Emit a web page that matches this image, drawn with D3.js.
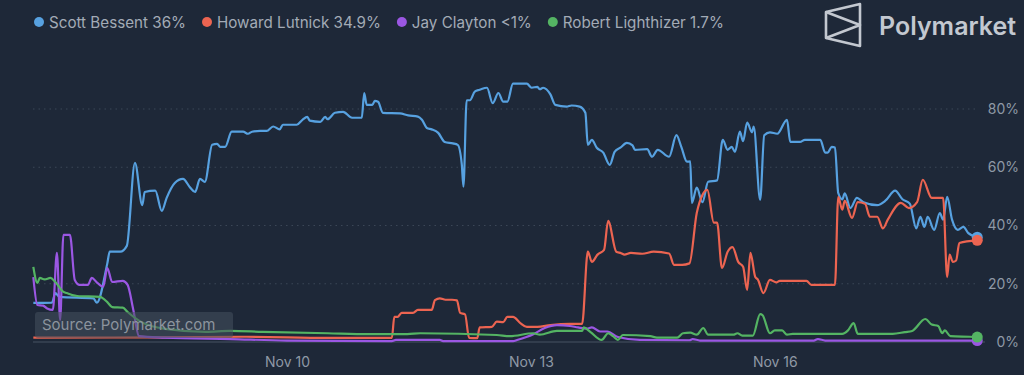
<!DOCTYPE html>
<html>
<head>
<meta charset="utf-8">
<script src="https://cdn.jsdelivr.net/npm/d3@7.9.0/dist/d3.min.js"></script>
<style>
  html, body { margin: 0; padding: 0; background: #1e2838; }
  svg { display: block; font-family: Inter, "Noto Sans", sans-serif; }
</style>
</head>
<body>
<svg id="chart" width="1024" height="375"></svg>
<script>
// day of November (fractional) -> probability %
const bessent = [
  [6.88, 13.4], [7.11, 13.5], [7.15, 16.8], [7.20, 15.5], [7.62, 15.0], [7.66, 13.5], [7.79, 27], [7.82, 31],
  [7.95, 31], [8.03, 33], [8.13, 61.5], [8.22, 47], [8.25, 51.5], [8.38, 52], [8.46, 45], [8.52, 49.5],
  [8.62, 54.6], [8.72, 56], [8.81, 53], [8.87, 51.5], [8.93, 56], [8.99, 55], [9.08, 67.7], [9.14, 68],
  [9.18, 67], [9.24, 67], [9.32, 72.2], [9.46, 72.2], [9.52, 71.5], [9.57, 72.2], [9.67, 72.5], [9.75, 72.5],
  [9.83, 74], [9.91, 73], [9.95, 74.6], [10.12, 74.6], [10.19, 76.3], [10.25, 77.3], [10.28, 76], [10.41, 75.6],
  [10.47, 77.3], [10.50, 76.5], [10.59, 78.7], [10.69, 79], [10.80, 77], [10.92, 77], [10.95, 85.5], [10.98, 81.4],
  [11.05, 81.4], [11.08, 82.8], [11.12, 82.5], [11.18, 78.7], [11.39, 78.5], [11.49, 77.8], [11.61, 77.4], [11.66, 76.3],
  [11.72, 73.5], [11.78, 73], [11.86, 71.8], [11.94, 68.7], [12.04, 68.2], [12.10, 67.7], [12.15, 61], [12.17, 53.3],
  [12.21, 83], [12.25, 83], [12.31, 86], [12.37, 86.6], [12.46, 87.3], [12.53, 82], [12.60, 85.5], [12.66, 82.5],
  [12.71, 82.5], [12.78, 88.7], [12.95, 88.7], [13.01, 87.3], [13.08, 87.6], [13.11, 86.8], [13.15, 87.3], [13.24, 85],
  [13.30, 81.4], [13.44, 80.8], [13.50, 81.2], [13.60, 80.8], [13.67, 78.7], [13.70, 67.7], [13.75, 69.4], [13.81, 66.7],
  [13.89, 65], [13.97, 60.8], [14.03, 65.3], [14.10, 66.7], [14.18, 68.4], [14.25, 67.5], [14.28, 66], [14.43, 66.2],
  [14.49, 63.6], [14.56, 66], [14.70, 63.6], [14.79, 71], [14.85, 67], [14.92, 61.9], [14.96, 62], [14.98, 47.8],
  [15.04, 53], [15.11, 48], [15.18, 55], [15.29, 55.5], [15.36, 69.4], [15.42, 66], [15.47, 67], [15.51, 65.3],
  [15.57, 72.2], [15.61, 69], [15.66, 75.3], [15.72, 72], [15.74, 74], [15.82, 48.8], [15.87, 71], [15.94, 72],
  [16.03, 71.5], [16.15, 76.3], [16.19, 68.7], [16.31, 68.7], [16.37, 69.4], [16.56, 69.4], [16.62, 65], [16.65, 65],
  [16.70, 67], [16.74, 66.8], [16.78, 51.2], [16.83, 49], [16.86, 51], [16.93, 46], [17.01, 49.5], [17.09, 48],
  [17.26, 47], [17.36, 48.5], [17.48, 52], [17.57, 49], [17.66, 47.5], [17.74, 39], [17.79, 43], [17.84, 39.5],
  [17.88, 43], [17.96, 38.5], [18.03, 44.3], [18.07, 42], [18.12, 49.8], [18.18, 42], [18.25, 38.5], [18.32, 39.5],
  [18.38, 37.4], [18.49, 36]
];

const lutnick = [
  [6.88, 1.5], [8.5, 1.6], [9.5, 1.8], [10.5, 1.4], [11.29, 1.4], [11.32, 8.6], [11.36, 8.6], [11.41, 10],
  [11.55, 10], [11.61, 11], [11.78, 11], [11.82, 14.4], [11.88, 15], [11.95, 14.5], [12.03, 14.5], [12.09, 14.3],
  [12.13, 10], [12.19, 9.5], [12.24, 1.4], [12.34, 1.3], [12.37, 5], [12.52, 5.2], [12.58, 7], [12.66, 6.8],
  [12.71, 8.6], [12.78, 8.6], [12.87, 6.5], [12.95, 5.2], [13.08, 5.2], [13.24, 5.8], [13.48, 6.2], [13.63, 6.2],
  [13.70, 31], [13.75, 27.5], [13.82, 30], [13.90, 31.6], [13.95, 41.6], [14.05, 31], [14.11, 30.5], [14.15, 30],
  [14.23, 30.6], [14.37, 30.3], [14.51, 31], [14.70, 30.4], [14.76, 26.5], [14.86, 26.5], [14.95, 27], [15.04, 44.3],
  [15.11, 50.5], [15.17, 52.2], [15.25, 41], [15.29, 41], [15.35, 25.4], [15.42, 31], [15.48, 32.6], [15.55, 27.5],
  [15.61, 25.8], [15.66, 17.9], [15.70, 30.6], [15.76, 22.3], [15.79, 21.5], [15.86, 16.8], [15.94, 21.3], [16.02, 20.5],
  [16.06, 21], [16.39, 21], [16.45, 19.6], [16.74, 19.6], [16.78, 49.8], [16.83, 45.4], [16.86, 48.5], [16.95, 42.6],
  [17.02, 48], [17.11, 47.5], [17.17, 43], [17.26, 43], [17.33, 39], [17.39, 42], [17.55, 47.8], [17.65, 46],
  [17.75, 48], [17.82, 55.7], [17.93, 49.5], [18.07, 49.5], [18.12, 22.3], [18.15, 30], [18.19, 27.5], [18.23, 28],
  [18.27, 34], [18.49, 34.9]
];

const clayton = [
  [6.88, 22.3], [6.93, 12.7], [7.00, 12.5], [7.05, 11.5], [7.12, 11], [7.17, 30.6], [7.21, 7.5], [7.25, 36.8],
  [7.33, 36.8], [7.39, 21.3], [7.45, 19.6], [7.55, 19.6], [7.60, 22], [7.66, 20.5], [7.74, 19], [7.79, 25.4],
  [7.85, 20.6], [7.98, 21], [8.04, 19.6], [8.11, 11], [8.18, 2], [8.5, 1.5], [9.3, 1.0], [10.0, 0.5],
  [11.29, 0.3], [11.34, 0.7], [11.88, 0.7], [11.92, 0.3], [12.78, 0.3], [12.83, 0.7], [13.03, 2.7], [13.17, 4.8],
  [13.32, 5.8], [13.48, 5.5], [13.58, 5], [13.69, 4.6], [13.75, 5.0], [13.85, 3.6], [13.94, 3.6], [14.07, 1.7],
  [14.34, 0.7], [14.95, 0.6], [14.99, 1.0], [15.08, 0.5], [16.48, 0.5], [16.53, 1.0], [16.62, 0.5], [18.49, 0.5]
];

const lighthizer = [
  [6.88, 25.8], [6.93, 20.3], [6.96, 22], [7.02, 21.5], [7.09, 22], [7.15, 20.6], [7.25, 17.2], [7.29, 16.8],
  [7.36, 16.1], [7.42, 15.8], [7.70, 15.5], [7.79, 13.7], [7.85, 12], [7.98, 11.8], [8.04, 10.3], [8.2, 7],
  [8.5, 4.5], [9.0, 3.5], [9.3, 3.8], [9.7, 3.5], [10.5, 3.0], [11.0, 2.7], [11.48, 2.7], [11.64, 3.0],
  [12.58, 2.4], [12.74, 2.0], [13.03, 3.0], [13.11, 2.5], [13.32, 3.8], [13.63, 3.8], [13.65, 5], [13.73, 3.5],
  [13.87, 0.7], [13.95, 3.0], [14.01, 2.0], [14.07, 0.7], [14.13, 2.4], [14.47, 2.0], [14.55, 1.5], [14.80, 1.5],
  [14.87, 3.0], [14.96, 3.2], [15.04, 2.5], [15.12, 4.8], [15.18, 2.5], [15.49, 2.5], [15.54, 3.0], [15.60, 2.2],
  [15.73, 2.2], [15.82, 9.6], [15.85, 9.2], [15.94, 3.0], [16.00, 4.0], [16.09, 4.0], [16.15, 2.5], [16.22, 2.8],
  [16.83, 2.8], [16.90, 4.0], [16.97, 6.5], [17.02, 2.8], [17.45, 2.8], [17.60, 3.4], [17.69, 3.8], [17.85, 7.9],
  [17.93, 6], [18.01, 5.5], [18.06, 3], [18.09, 4], [18.16, 2.0], [18.40, 1.8], [18.49, 1.7]
];

const names = ['Scott Bessent', 'Howard Lutnick', 'Jay Clayton', 'Robert Lighthizer'];
const latest = ['36%', '34.9%', '<1%', '1.7%'];
const colors = ['#57a1e0', '#ec6451', '#9b57e3', '#54b463'];
const tickDays = [10, 13, 16];
const yTicks = [0, 20, 40, 60, 80];

const allSeries = [bessent, lutnick, clayton, lighthizer];

const toDate = (d) => new Date(Date.UTC(2024, 9, 31) + d * 864e5);

const svg = d3.select('#chart');

const x = d3.scaleUtc()
    .domain([toDate(6.876), toDate(18.487)])
    .range([33, 977]);

const y = d3.scaleLinear()
    .domain([0, 80])
    .range([342, 109]);

// gridlines
svg.append('g')
    .selectAll('line')
    .data(yTicks.filter((t) => t > 0))
    .join('line')
    .attr('x1', 33)
    .attr('x2', 975)
    .attr('y1', (d) => y(d))
    .attr('y2', (d) => y(d))
    .attr('stroke', '#3b4656')
    .attr('stroke-width', 1)
    .attr('stroke-dasharray', '1.5 4');

svg.append('line')
    .attr('x1', 33)
    .attr('x2', 985)
    .attr('y1', y(0))
    .attr('y2', y(0))
    .attr('stroke', '#3a4555')
    .attr('stroke-width', 1.5);

// right axis
let yAxis = d3.axisRight(y)
    .tickValues(yTicks)
    .tickFormat((d) => `${d}%`)
    .tickSize(0)
    .tickPadding(0);

let yAxisG = svg.append('g')
    .attr('transform', 'translate(1019,0)')
    .call(yAxis);
yAxisG.select('.domain').remove();
yAxisG.selectAll('text')
    .attr('text-anchor', 'end')
    .attr('fill', '#8f99a6')
    .attr('font-size', 14)
    .attr('font-family', 'Inter, sans-serif');

// bottom axis
let xAxis = d3.axisBottom(x)
    .tickValues(tickDays.map(toDate))
    .tickFormat(d3.utcFormat('%b %-d'))
    .tickSize(0)
    .tickPadding(0);

let xAxisG = svg.append('g')
    .attr('transform', 'translate(0,357)')
    .call(xAxis);
xAxisG.select('.domain').remove();
xAxisG.selectAll('text')
    .attr('fill', '#8f99a6')
    .attr('font-size', 14)
    .attr('font-family', 'Inter, sans-serif');

// lines
const line = d3.line()
    .x((d) => x(toDate(d[0])))
    .y((d) => y(d[1]))
    .curve(d3.curveMonotoneX);

allSeries.forEach((series, idx) => {
    svg.append('path')
        .datum(series)
        .attr('d', line)
        .attr('fill', 'none')
        .attr('stroke', colors[idx])
        .attr('stroke-width', 2.2)
        .attr('stroke-linejoin', 'round');
});

allSeries.forEach((series, idx) => {
    let last = series[series.length - 1];
    svg.append('circle')
        .attr('cx', x(toDate(last[0])))
        .attr('cy', y(last[1]))
        .attr('r', 5.5)
        .attr('fill', colors[idx]);
});

// source label
svg.append('rect')
    .attr('x', 35)
    .attr('y', 312)
    .attr('width', 198)
    .attr('height', 26)
    .attr('rx', 3)
    .attr('fill', 'rgba(70,80,94,0.55)');

svg.append('text')
    .attr('x', 42)
    .attr('y', 330)
    .attr('fill', '#8c949e')
    .attr('font-size', 15)
    .text('Source: Polymarket.com');

// legend
let legendX = 33;
names.forEach((name, idx) => {
    let g = svg.append('g');
    g.append('circle')
        .attr('cx', legendX + 6)
        .attr('cy', 22)
        .attr('r', 5)
        .attr('fill', colors[idx]);
    let t = g.append('text')
        .attr('x', legendX + 16)
        .attr('y', 27.5)
        .attr('fill', '#a3abb6')
        .attr('font-size', 15.2)
        .text(`${name} ${latest[idx]}`);
    legendX += 16 + t.node().getComputedTextLength() + 15;
});

// logo
let logo = svg.append('g').attr('fill', 'none').attr('stroke', '#c3c8d0').attr('stroke-width', 2.6).attr('stroke-linejoin', 'round');
logo.append('path').attr('d', 'M826,12 L860,4 L860,46 L826,38 Z');
logo.append('path').attr('d', 'M826,12 L860,25 L826,38');

svg.append('text')
    .attr('x', 879)
    .attr('y', 35)
    .attr('fill', '#c3c8d0')
    .attr('font-size', 25)
    .attr('font-weight', 600)
    .text('Polymarket');
</script>
</body>
</html>
